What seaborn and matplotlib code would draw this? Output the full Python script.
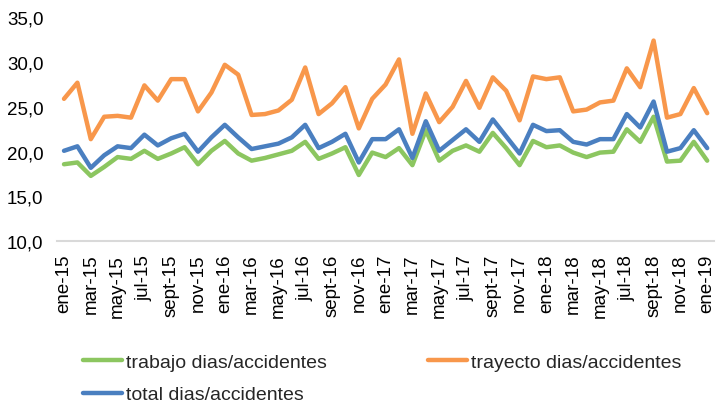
import numpy as np
import pandas as pd
import matplotlib
matplotlib.use("Agg")
import matplotlib.pyplot as plt
import seaborn as sns

# -------------------------- data --------------------------
months = ["ene", "feb", "mar", "abr", "may", "jun", "jul", "ago", "sept", "oct", "nov", "dic"]
periods = [f"{m}-{y}" for y in ["15", "16", "17", "18"] for m in months] + ["ene-19"]

trabajo = [18.6, 18.8, 17.3, 18.3, 19.4, 19.2, 20.1, 19.2, 19.8, 20.5, 18.6, 20.1,
           21.2, 19.8, 19.0, 19.3, 19.7, 20.1, 21.1, 19.2, 19.8, 20.5, 17.4, 19.9,
           19.4, 20.4, 18.5, 22.4, 19.0, 20.1, 20.7, 20.0, 22.1, 20.4, 18.5, 21.2,
           20.5, 20.7, 19.9, 19.4, 19.9, 20.0, 22.5, 21.1, 23.9, 18.9, 19.0, 21.1,
           19.0]
trayecto = [25.9, 27.7, 21.4, 23.9, 24.0, 23.8, 27.4, 25.7, 28.1, 28.1, 24.5, 26.6,
            29.7, 28.6, 24.1, 24.2, 24.6, 25.8, 29.4, 24.2, 25.4, 27.2, 22.6, 25.9,
            27.5, 30.3, 22.0, 26.5, 23.3, 25.0, 27.9, 24.9, 28.3, 26.8, 23.5, 28.4,
            28.1, 28.3, 24.5, 24.7, 25.5, 25.7, 29.3, 27.2, 32.4, 23.8, 24.2, 27.1,
            24.3]
total = [20.1, 20.6, 18.2, 19.6, 20.6, 20.4, 21.9, 20.7, 21.5, 22.0, 20.0, 21.6,
         23.0, 21.6, 20.3, 20.6, 20.9, 21.6, 23.0, 20.4, 21.1, 22.0, 18.8, 21.4,
         21.4, 22.5, 19.3, 23.4, 20.1, 21.3, 22.5, 21.1, 23.6, 21.7, 19.8, 23.0,
         22.3, 22.4, 21.1, 20.8, 21.4, 21.4, 24.2, 22.7, 25.6, 20.0, 20.4, 22.4,
         20.4]

series_names = ["trabajo dias/accidentes", "trayecto dias/accidentes", "total dias/accidentes"]
colors = {"trabajo dias/accidentes": "#8cc660",
          "trayecto dias/accidentes": "#f8974b",
          "total dias/accidentes": "#4a7fc0"}

df = pd.DataFrame({"idx": np.arange(len(periods)),
                   series_names[0]: trabajo,
                   series_names[1]: trayecto,
                   series_names[2]: total})
long_df = df.melt(id_vars="idx", var_name="serie", value_name="valor")

# -------------------------- plot --------------------------
sns.set_style("white")
plt.rcParams["font.family"] = ["Liberation Sans", "DejaVu Sans"]

fig = plt.figure(figsize=(7.17, 4.06), dpi=100)
# category width ~13.4 px, first point at x=64
ax = fig.add_axes([57.3 / 717, 1 - 242.3 / 406, 656.6 / 717, 224 / 406])

sns.lineplot(data=long_df, x="idx", y="valor", hue="serie", hue_order=series_names,
             palette=colors, linewidth=3.2, ax=ax, legend=False)

ax.set_xlim(-0.5, len(periods) - 0.5)
ax.set_ylim(10, 35)
ax.set_yticks(np.arange(10, 36, 5))
ax.set_yticklabels([f"{v:.1f}".replace(".", ",") for v in np.arange(10, 36, 5)])

# labels every two months, ticks on the category borders
label_pos = np.arange(0, len(periods), 2)
ax.set_xticks(label_pos)
ax.set_xticklabels([periods[i] for i in label_pos], rotation=90)
ax.set_xticks(label_pos - 0.5, minor=True)
ax.tick_params(axis="x", which="major", length=0, pad=9, labelsize=13.5, colors="black")
ax.tick_params(axis="x", which="minor", length=6, width=1.2, color="#d9d9d9")
ax.tick_params(axis="y", length=0, pad=10, labelsize=13.5, colors="black")
ax.set_xlabel("")
ax.set_ylabel("")

for side in ["top", "right", "left"]:
    ax.spines[side].set_visible(False)
ax.spines["bottom"].set_color("#d9d9d9")
ax.spines["bottom"].set_linewidth(1.5)

# legend: two columns (trabajo / total on the left, trayecto on the right)
handles = [plt.Line2D([], [], color=colors[n], linewidth=3.2) for n in series_names]
order = [0, 2, 1]
fig.legend([handles[i] for i in order], [series_names[i] for i in order],
           ncol=2, loc="upper left", bbox_to_anchor=(83 / 717, 1 - 354 / 406),
           frameon=False, fontsize=14, handlelength=2.0, handletextpad=0.2,
           columnspacing=5.2, labelspacing=0.78, borderpad=0, borderaxespad=0)

plt.savefig("out.png", dpi=100)
